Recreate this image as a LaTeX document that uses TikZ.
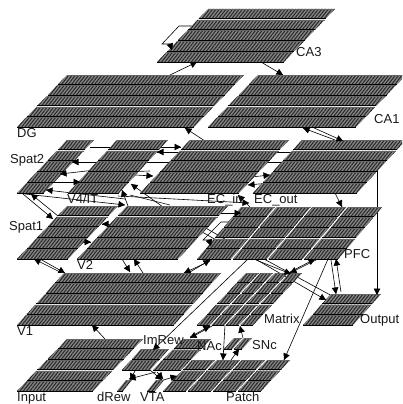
\documentclass[tikz,border=0pt]{standalone}
\usepackage{fontspec}
\setmainfont{Liberation Sans}
\usetikzlibrary{patterns.meta,arrows.meta,calc}
\tikzset{
  link/.style={draw=black,line width=0.6pt},
  tip/.style={-{Triangle[length=6.5pt,width=6.5pt]}},
  cell/.style={fill=black!48},
  hatch/.style={pattern={Lines[angle=52,distance=2.6pt,line width=1pt]},pattern color=black!85},
  lbl/.style={anchor=base west,inner sep=0pt,font=\fontsize{13pt}{14pt}\selectfont,text=black!90}
}
\newcommand\layer[8]{%
  \coordinate (#1) at (#2,#3);
  \pgfmathsetmacro\rh{(#6+1.1)/#7}
  \pgfmathsetmacro\cw{#5/#8}
  \pgfmathsetmacro\cg{#8>1?1.8:0}
  \foreach \r in {1,...,#7}{
    \foreach \c in {1,...,#8}{
      \pgfmathsetmacro\yb{#3-(\r-1)*\rh}
      \pgfmathsetmacro\yt{\yb-\rh+1.1}
      \pgfmathsetmacro\xb{#2+#4*(#3-\yb)/#6+(\c-1)*\cw}
      \pgfmathsetmacro\xt{#2+#4*(#3-\yt)/#6+(\c-1)*\cw}
      \pgfmathsetmacro\wc{\cw-\cg}
      \path[cell] (\xb,\yb) -- (\xb+\wc,\yb) -- (\xt+\wc,\yt) -- (\xt,\yt) -- cycle;
      \path[hatch] (\xb,\yb) -- (\xb+\wc,\yb) -- (\xt+\wc,\yt) -- (\xt,\yt) -- cycle;
      \draw[black,line width=0.9pt] (\xb,\yb) -- (\xb+\wc,\yb);
      \draw[black!60,line width=0.4pt] (\xt,\yt) -- (\xt+\wc,\yt);
    }
  }
}
\newcommand\pt[2]{\coordinate (#1) at (#2);}
\newcommand\conn[2]{}
\newcommand\plain[2]{}
\newcommand\allconn{%
  \conn{b1}{b2}\conn{c1}{c2}\conn{d1}{d2}\conn{e1}{e2}\conn{f1}{f2}
  \conn{g1}{g2}\conn{h1}{h2}\conn{i1}{i2}\conn{j1}{j2}\conn{k1}{k2}
  \conn{l1}{l2}\conn{m1}{m2}\conn{n1}{n2}\conn{o1}{o2}\conn{p1}{p2}
  \conn{q1}{q2}\conn{r1}{r2}\conn{s1}{s2}\conn{t1}{t2}\conn{u1}{u2}
  \conn{v1}{v2}\conn{w1}{w2}\conn{x1}{x2}\conn{y1}{y2}\conn{z1}{z2}
  \conn{aa1}{aa2}\conn{ab1}{ab2}\conn{ac1}{ac2}\conn{ad1}{ad2}\conn{ae1}{ae2}
  \conn{af1}{af2}\conn{ag1}{ag2}\conn{ah1}{ah2}\conn{ai1}{ai2}\conn{aj1}{aj2}
  \conn{ak1}{ak2}\conn{al1}{al2}\conn{am1}{am2}\conn{an1}{an2}\conn{ao1}{ao2}
  \conn{ap1}{ap2}\conn{aq1}{aq2}\conn{ar1}{ar2}\conn{as1}{as2}\conn{at1}{at2}
  \conn{au1}{au2}\conn{av1}{av2}\conn{aw1}{aw2}\conn{ax1}{ax2}\conn{ay1}{ay2}
  \conn{az1}{az2}\conn{loopa4}{loopa5}\conn{loopb4}{loopb5}
  \plain{pa1}{pa2}\plain{pb1}{pb2}\plain{pc1}{pc2}\plain{pd1}{pd2}\plain{pe1}{pe2}\plain{pf1}{pf2}\plain{pg1}{pg2}
}
\begin{document}
\begin{tikzpicture}[x=1pt,y=-1pt]
\clip (0,0) rectangle (402,404);
\pt{loopa1}{192,26}\pt{loopa2}{179,26}\pt{loopa3}{162,44}\pt{loopa4}{170,44}\pt{loopa5}{172,50}
\pt{loopb1}{232,222}\pt{loopb2}{221,222}\pt{loopb3}{203,240}\pt{loopb4}{209,240}\pt{loopb5}{211,246}
\pt{b1}{170,75}\pt{b2}{197,62}
\pt{c1}{261,62}\pt{c2}{283,75}
\pt{d1}{205,141}\pt{d2}{185,128}
\pt{e1}{335,140}\pt{e2}{303,128}
\pt{f1}{312,127}\pt{f2}{343,141}
\pt{g1}{90,147}\pt{g2}{181,147}
\pt{h1}{192,152}\pt{h2}{157,152}
\pt{i1}{192,162}\pt{i2}{72,162}
\pt{j1}{100,173}\pt{j2}{153,176}
\pt{k1}{113,168}\pt{k2}{60,174}
\pt{l1}{40,182}\pt{l2}{80,182}
\pt{m1}{125,199}\pt{m2}{46,190}
\pt{n1}{25,194}\pt{n2}{125,205}
\pt{o1}{128,206}\pt{o2}{122,190}
\pt{p1}{163,207}\pt{p2}{131,184}
\pt{q1}{118,196}\pt{q2}{249,203}
\pt{r1}{200,213}\pt{r2}{241,213}
\pt{s1}{125,224}\pt{s2}{102,224}
\pt{t1}{70,242}\pt{t2}{91,242}
\pt{u1}{23,194}\pt{u2}{53,219}
\pt{v1}{58,216}\pt{v2}{31,194}
\pt{w1}{60,272}\pt{w2}{34,259}
\pt{x1}{40,259}\pt{x2}{65,273}
\pt{y1}{122,259}\pt{y2}{130,272}
\pt{z1}{143,273}\pt{z2}{134,259}
\pt{aa1}{210,261}\pt{aa2}{184,273}
\pt{ab1}{190,272}\pt{ab2}{210,260}
\pt{ac1}{105,339}\pt{ac2}{92,325}
\pt{ad1}{248,259}\pt{ad2}{153,350}
\pt{ae1}{135,371}\pt{ae2}{130,380}
\pt{af1}{156,372}\pt{af2}{129,379}
\pt{ag1}{150,370}\pt{ag2}{162,380}
\pt{ah1}{160,381}\pt{ah2}{177,376}
\pt{ai1}{212,326}\pt{ai2}{190,338}
\pt{aj1}{190,337}\pt{aj2}{210,326}
\pt{ak1}{225,325}\pt{ak2}{223,360}
\pt{al1}{243,338}\pt{al2}{240,326}
\pt{am1}{231,360}\pt{am2}{239,349}
\pt{an1}{328,259}\pt{an2}{284,360}
\pt{ao1}{316,260}\pt{ao2}{290,273}
\pt{ap1}{290,272}\pt{ap2}{315,259}
\pt{aq1}{256,260}\pt{aq2}{291,274}
\pt{ar1}{257,260}\pt{ar2}{326,300}
\pt{as1}{331,260}\pt{as2}{336,294}
\pt{at1}{341,292}\pt{at2}{336,259}
\pt{au1}{377,168}\pt{au2}{377,295}
\pt{av1}{335,193}\pt{av2}{342,207}
\pt{aw1}{251,177}\pt{aw2}{270,175}
\pt{ax1}{270,183}\pt{ax2}{248,185}
\pt{ay1}{250,207}\pt{ay2}{238,195}
\pt{az1}{157,372}\pt{az2}{163,379}
\pt{pa1}{260,152}\pt{pa2}{310,152}
\pt{pb1}{255,162}\pt{pb2}{305,162}
\pt{pc1}{264,259}\pt{pc2}{334,297}
\pt{pd1}{190,225}\pt{pd2}{230,248}
\pt{pe1}{190,219}\pt{pe2}{230,242}
\pt{pf1}{130,195}\pt{pf2}{170,205}
\pt{pg1}{120,172}\pt{pg2}{150,171}
% first pass: connector lines, behind the layers
\renewcommand\conn[2]{\draw[link] (#1) -- (#2);}
\renewcommand\plain[2]{\draw[link] (#1) -- (#2);}
\allconn
\draw[link] (loopa1) -- (loopa2) -- (loopa3) -- (loopa4);
\draw[link] (loopb1) -- (loopb2) -- (loopb3) -- (loopb4);
% layers: name, x bottom-left, y bottom, shear, width, height, rows, columns
\layer{CA3}{157}{62}{51}{127}{53}{5}{1}
\layer{DG}{17}{127}{50}{177}{52}{5}{1}
\layer{CA1}{208}{127}{50}{148}{52}{5}{1}
\layer{Spat2}{17}{193}{50}{27}{53}{5}{1}
\layer{V4}{68}{193}{49}{51}{53}{5}{1}
\layer{ECin}{140}{193}{50}{99}{53}{5}{1}
\layer{ECout}{253}{193}{49}{104}{53}{5}{1}
\layer{Spat1}{17}{259}{50}{51}{53}{5}{1}
\layer{V2}{77}{259}{50}{101}{53}{5}{1}
\layer{PFC}{197}{259}{44}{143}{52}{5}{4}
\layer{V1}{17}{325}{47}{157}{52}{5}{1}
\layer{Matrix}{197}{325}{49}{58}{52}{5}{4}
\layer{Output}{303}{325}{28}{50}{31}{3}{1}
\layer{Input}{17}{391}{50}{76}{52}{5}{1}
\layer{ImRew}{122}{370}{19}{28}{21}{2}{1}
\layer{NAc}{153}{370}{30}{28}{31}{3}{1}
\layer{SNc}{224}{349}{10}{20}{11}{1}{2}
\layer{dRew}{117}{391}{9}{6}{11}{1}{1}
\layer{VTA}{147}{391}{9}{8}{11}{1}{1}
\layer{Patch}{163}{391}{29}{100}{31}{3}{4}
% second pass: arrow tips, in front of the layers
\renewcommand\conn[2]{\draw[link,tip] ($(#2)!7pt!(#1)$) -- (#2);}
\renewcommand\plain[2]{}
\allconn
% labels
\node[lbl] (tCA3) at (296,56.5) {CA3};
\node[lbl] (tDG) at (17,137.5) {DG};
\node[lbl] (tCA1) at (374,123.5) {CA1};
\node[lbl] (tSpat2) at (10,163.5) {Spat2};
\node[lbl] (tV4) at (67,203.5) {V4/IT};
\node[lbl] (tECin) at (207,203.5) {EC\_in};
\node[lbl] (tECout) at (254,203.5) {EC\_out};
\node[lbl] (tSpat1) at (9,230.5) {Spat1};
\node[lbl] (tV2) at (77,269.5) {V2};
\node[lbl] (tPFC) at (344,258.5) {PFC};
\node[lbl] (tV1) at (17,335.5) {V1};
\node[lbl] (tMatrix) at (264,323.5) {Matrix};
\node[lbl] (tOutput) at (360,323.5) {Output};
\node[lbl] (tImRew) at (143,344.5) {ImRew};
\node[lbl] (tNAc) at (197,350.5) {NAc};
\node[lbl] (tSNc) at (252,349.5) {SNc};
\node[lbl] (tInput) at (17,401.5) {Input};
\node[lbl] (tdRew) at (97,401.5) {dRew};
\node[lbl] (tVTA) at (140,401.5) {VTA};
\node[lbl] (tPatch) at (226,401.5) {Patch};
\end{tikzpicture}
\end{document}
